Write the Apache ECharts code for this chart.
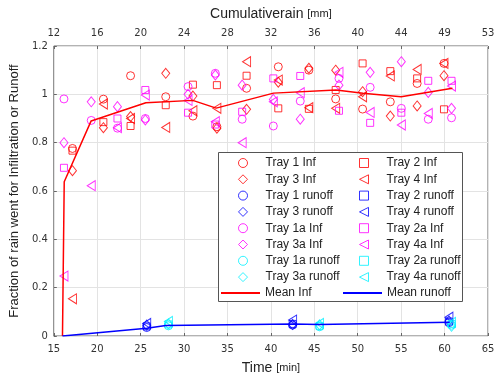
<!DOCTYPE html>
<html>
<head>
<meta charset="utf-8">
<script src="https://cdn.jsdelivr.net/npm/echarts@6/dist/echarts.min.js"></script>
<style>
html, body { margin: 0; padding: 0; background: #fff; }
#chart { width: 500px; height: 382px; }
</style>
</head>
<body>
<div id="chart"></div>
<script>
// top axis labels (cumulative rain, mm) at time ticks 15..65
var rainLabels = ['12', '16', '20', '24', '28', '32', '36', '40', '44', '49', '53'];

// infiltration, trays 1-4 (red)
var tray1Inf = [[17.15, 0.776], [20.71, 0.98], [23.84, 1.077], [27.89, 0.99], [31.02, 0.91], [33.78, 0.866], [37.2, 1.025], [40.85, 1.114], [44.37, 1.10], [47.46, 0.981], [50.56, 0.939], [53.75, 0.969], [56.84, 1.045], [59.93, 1.128]];
var tray2Inf = [[17.15, 0.767], [20.71, 0.885], [23.84, 0.869], [27.89, 0.955], [31.02, 1.04], [33.78, 1.038], [37.2, 1.077], [40.85, 0.942], [44.37, 0.94], [47.46, 1.018], [50.56, 1.128], [53.75, 1.096], [56.84, 1.066], [59.93, 0.938]];
var tray3Inf = [[17.15, 0.684], [20.71, 0.862], [23.84, 0.908], [27.89, 1.087], [31.02, 0.993], [33.78, 0.86], [37.2, 0.938], [40.85, 1.05], [44.37, 1.108], [47.46, 1.10], [50.56, 1.011], [53.75, 0.91], [56.84, 0.952], [59.93, 1.077]];
var tray4Inf = [[17.15, 0.154], [20.71, 0.96], [23.84, 0.90], [27.89, 0.863], [31.02, 0.932], [33.78, 0.942], [37.2, 1.135], [40.85, 1.059], [44.37, 0.945], [47.46, 0.942], [50.56, 0.99], [53.75, 1.076], [56.84, 1.103], [59.93, 1.128]];

// infiltration, trays 1a-4a (magenta)
var tray1aInf = [[16.17, 0.981], [19.31, 0.892], [22.33, 0.86], [25.54, 0.90], [30.46, 1.032], [33.6, 1.087], [36.69, 0.897], [40.28, 0.869], [43.38, 0.972], [47.84, 1.066], [51.43, 1.029], [55.02, 0.942], [58.12, 0.897], [60.8, 0.903]];
var tray2aInf = [[16.17, 0.696], [22.33, 0.90], [25.54, 1.018], [30.46, 0.924], [33.6, 0.875], [36.69, 0.928], [40.28, 1.066], [43.38, 1.076], [47.84, 0.932], [51.43, 0.882], [55.02, 0.924], [58.12, 1.056], [60.8, 1.056]];
var tray3aInf = [[16.17, 0.80], [19.31, 0.969], [22.33, 0.949], [25.54, 0.894], [30.46, 1.0], [33.6, 1.08], [36.69, 1.038], [40.28, 0.979], [43.38, 0.897], [47.84, 1.038], [51.43, 1.091], [55.02, 1.135], [58.12, 1.008], [60.8, 0.942]];
var tray4aInf = [[16.17, 0.248], [19.31, 0.622], [22.33, 0.862], [25.54, 0.997], [30.46, 0.975], [33.6, 0.887], [36.69, 0.80], [40.28, 0.969], [43.38, 1.007], [47.84, 1.091], [51.43, 0.925], [55.02, 0.873], [58.12, 0.921], [60.8, 1.034]];

// runoff, trays 1-4 (blue) and 1a-4a (cyan)
var tray1Run = [[25.7, 0.035], [42.5, 0.045], [60.5, 0.055]];
var tray2Run = [[25.7, 0.04], [42.5, 0.05], [60.5, 0.06]];
var tray3Run = [[25.7, 0.045], [42.5, 0.048], [60.5, 0.062]];
var tray4Run = [[25.7, 0.052], [42.5, 0.066], [60.5, 0.078]];
var tray1aRun = [[28.2, 0.042], [45.6, 0.038], [60.8, 0.045]];
var tray2aRun = [[28.2, 0.048], [45.6, 0.042], [60.8, 0.05]];
var tray3aRun = [[28.2, 0.05], [45.6, 0.046], [60.8, 0.04]];
var tray4aRun = [[28.2, 0.06], [45.6, 0.052], [60.8, 0.056]];

// means
var meanInf = [[16.0, 0], [16.2, 0.638], [19.3, 0.89], [25.6, 0.965], [31.0, 0.975], [33.7, 0.943], [40.3, 1.005], [47.5, 1.018], [50.6, 1.004], [55.0, 0.99], [60.9, 1.025]];
var meanRun = [[16.0, 0], [25.7, 0.032], [27.9, 0.043], [42.5, 0.05], [45.6, 0.048], [60.6, 0.057]];

var RED = '#ff0000', MAG = '#ff00ff', BLUE = '#0000ff', CYAN = '#00f0ff';

// marker shapes (triangle points left)
var shapes = {
    circle: { symbol: 'circle', symbolSize: 8 },
    square: { symbol: 'rect', symbolSize: 7 },
    diamond: { symbol: 'diamond', symbolSize: [8, 10] },
    triangle: { symbol: 'path://M0,5L10,0L10,10Z', symbolSize: [8, 10] }
};

function markers(name, data, color, shape) {
    var s = shapes[shape];
    return {
        name: name,
        type: 'scatter',
        data: data,
        symbol: s.symbol,
        symbolSize: s.symbolSize,
        itemStyle: { color: 'transparent', borderColor: color, borderWidth: 1 },
        z: 2
    };
}

function meanLine(name, data, color) {
    return {
        name: name,
        type: 'line',
        data: data,
        symbol: 'none',
        lineStyle: { color: color, width: 1.5 },
        itemStyle: { color: color },
        z: 3
    };
}

var font = 'Liberation Sans, Arial, sans-serif';

var leftNames = ['Tray 1 Inf', 'Tray 3 Inf', 'Tray 1 runoff', 'Tray 3 runoff', 'Tray 1a Inf', 'Tray 3a Inf', 'Tray 1a runoff', 'Tray 3a runoff'];
var rightNames = ['Tray 2 Inf', 'Tray 4 Inf', 'Tray 2 runoff', 'Tray 4 runoff', 'Tray 2a Inf', 'Tray 4a Inf', 'Tray 2a runoff', 'Tray 4a runoff'];

function legendCol(names, left) {
    return {
        data: names,
        orient: 'vertical',
        left: left,
        top: 157,
        padding: 0,
        itemWidth: 9,
        itemHeight: 9,
        itemGap: 4.3,
        itemStyle: { borderWidth: 1 },
        textStyle: { fontSize: 12, color: '#222', fontFamily: font, padding: [0, 0, 0, 13] },
        selectedMode: false
    };
}

function legendMean(name, left) {
    return {
        data: [{ name: name, icon: 'rect' }],
        orient: 'vertical',
        left: left,
        top: 287,
        padding: 0,
        itemWidth: 39,
        itemHeight: 2,
        itemStyle: { borderWidth: 0 },
        textStyle: { fontSize: 12, color: '#222', fontFamily: font },
        selectedMode: false
    };
}

var chart = echarts.init(document.getElementById('chart'));
chart.setOption({
    animation: false,
    backgroundColor: '#fff',
    grid: { left: 47, right: 12, top: 46, bottom: 46, show: true, borderColor: '#666', borderWidth: 1, backgroundColor: 'transparent' },
    legend: [legendCol(leftNames, 238), legendCol(rightNames, 359), legendMean('Mean Inf', 221), legendMean('Mean runoff', 343)],
    graphic: [{
        type: 'rect',
        shape: { x: 218.5, y: 152.5, width: 244, height: 149 },
        style: { fill: '#fff', stroke: '#555', lineWidth: 1 },
        z: 3
    }],
    xAxis: [{
        type: 'value',
        position: 'bottom',
        min: 15,
        max: 65,
        interval: 5,
        name: 'Time {s|[min]}',
        nameLocation: 'middle',
        nameGap: 25,
        nameTextStyle: { fontSize: 14, color: '#222', fontFamily: font, rich: { s: { fontSize: 11, color: '#222', fontFamily: font } } },
        axisLine: { show: false },
        axisTick: { show: true, inside: true, length: 3, lineStyle: { color: '#666' } },
        axisLabel: { fontSize: 10, color: '#333', margin: 8, fontFamily: 'DejaVu Sans, sans-serif' },
        splitLine: { show: true, lineStyle: { color: '#e3e3e3', width: 1 } }
    }, {
        type: 'value',
        position: 'top',
        min: 15,
        max: 65,
        interval: 5,
        name: 'Cumulativerain {s|[mm]}',
        nameLocation: 'middle',
        nameGap: 25,
        nameTextStyle: { fontSize: 14, color: '#222', fontFamily: font, rich: { s: { fontSize: 11, color: '#222', fontFamily: font } } },
        axisLine: { show: false },
        axisTick: { show: true, inside: true, length: 3, lineStyle: { color: '#666' } },
        axisLabel: {
            fontSize: 10, color: '#333', margin: 8, fontFamily: 'DejaVu Sans, sans-serif',
            formatter: function (v) { return rainLabels[Math.round((v - 15) / 5)]; }
        },
        splitLine: { show: false }
    }],
    yAxis: {
        type: 'value',
        min: 0,
        max: 1.2,
        interval: 0.2,
        name: 'Fraction of rain went for Infiltration or Runoff',
        nameLocation: 'middle',
        nameGap: 28,
        nameTextStyle: { fontSize: 13, color: '#222', fontFamily: font },
        axisLine: { show: false },
        axisTick: { show: true, inside: true, length: 3, lineStyle: { color: '#666' } },
        axisLabel: { fontSize: 10, color: '#333', margin: 6, fontFamily: 'DejaVu Sans, sans-serif' },
        splitLine: { show: true, lineStyle: { color: '#e3e3e3', width: 1 } }
    },
    series: [
        markers('Tray 1 Inf', tray1Inf, RED, 'circle'),
        markers('Tray 2 Inf', tray2Inf, RED, 'square'),
        markers('Tray 3 Inf', tray3Inf, RED, 'diamond'),
        markers('Tray 4 Inf', tray4Inf, RED, 'triangle'),
        markers('Tray 1 runoff', tray1Run, BLUE, 'circle'),
        markers('Tray 2 runoff', tray2Run, BLUE, 'square'),
        markers('Tray 3 runoff', tray3Run, BLUE, 'diamond'),
        markers('Tray 4 runoff', tray4Run, BLUE, 'triangle'),
        markers('Tray 1a Inf', tray1aInf, MAG, 'circle'),
        markers('Tray 2a Inf', tray2aInf, MAG, 'square'),
        markers('Tray 3a Inf', tray3aInf, MAG, 'diamond'),
        markers('Tray 4a Inf', tray4aInf, MAG, 'triangle'),
        markers('Tray 1a runoff', tray1aRun, CYAN, 'circle'),
        markers('Tray 2a runoff', tray2aRun, CYAN, 'square'),
        markers('Tray 3a runoff', tray3aRun, CYAN, 'diamond'),
        markers('Tray 4a runoff', tray4aRun, CYAN, 'triangle'),
        meanLine('Mean Inf', meanInf, RED),
        meanLine('Mean runoff', meanRun, BLUE)
    ]
});
</script>
</body>
</html>
